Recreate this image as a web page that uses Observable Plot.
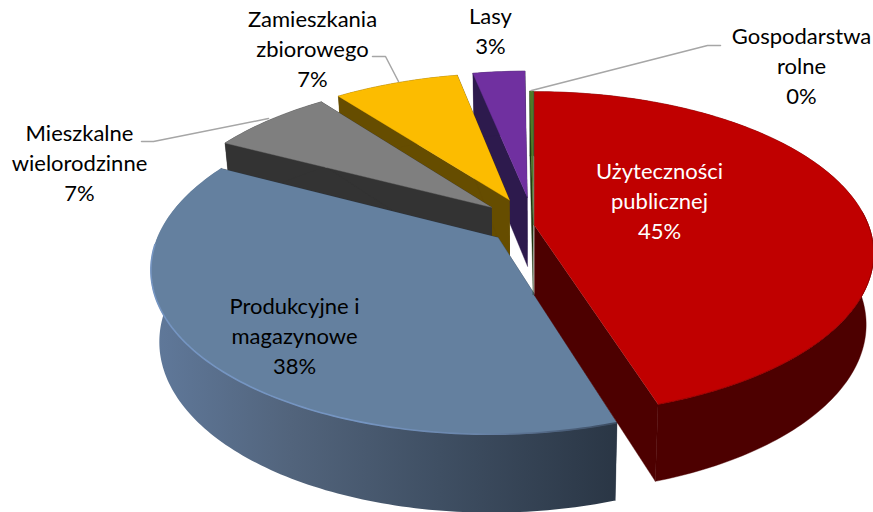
<!DOCTYPE html>
<html>
<head>
<meta charset="utf-8">
<script src="https://cdn.jsdelivr.net/npm/d3@7"></script>
<script src="https://cdn.jsdelivr.net/npm/@observablehq/plot@0.6"></script>
<style>
html,body{margin:0;padding:0;background:#fff}
svg{display:block}
</style>
</head>
<body>
<div id="chart"></div>
<script>
// Data
const categories = ["Użyteczności publicznej","Produkcyjne i magazynowe","Mieszkalne wielorodzinne","Zamieszkania zbiorowego","Lasy","Gospodarstwa rolne"];
const shares = [45, 37.6, 7, 7.2, 3, 0.2];
const shownPercent = ["45%","38%","7%","7%","3%","0%"];
const labelLines = [["Użyteczności","publicznej"],["Produkcyjne i","magazynowe"],["Mieszkalne","wielorodzinne"],["Zamieszkania","zbiorowego"],["Lasy"],["Gospodarstwa","rolne"]];

// Styling and layout of the 3-D exploded pie
const topColors  = ["#c00000","#64809f","#7f7f7f","#fcbc00","#7030a0","#4f7a28"];
const sideColors = ["#4d0000","url(#blueWall)","#333333","#664d00","#2d1a4d","#1f3310"];
const faceColors = ["#4d0000","#2b3747","#333333","#664d00","#2d1a4d","#1f3310"];
const explodeU = [0,-0.108,-0.131,-0.077,-0.022,-0.004];
const explodeV = [0,0.075,-0.118,-0.167,-0.185,-0.005];
const radius = [1,1.006,1,1,1,1];
const drawOrder = [4,3,2,1,5,0];
const labelX = [659,294,79,312,490,801];
const labelY = [202,337,164,50,32,67];
const labelInk = ["#ffffff","#000000","#000000","#000000","#000000","#000000"];
const leaders = [
  [[141,141],[153,141],[268,118]],
  [[372,56],[385,56],[398,81]],
  [[720,45],[707,45],[531,90]]
];
const cx=534, cy=225, Rx=334, Ry=157, k=0.173, depth=70, sx=0.978, sy=1.04;

function project(u,v,low){
  const w=1-k*v; let x=Rx*u/w, y=Ry*v/w;
  if(low){x*=sx; y=depth+y*sy;}
  return [cx+x,cy+y];
}
const polys=[];
let acc=0;
const starts=shares.map(s=>{const a=acc; acc+=s*3.6; return a;});
drawOrder.forEach(i=>{
  const a=starts[i], b=a+shares[i]*3.6, ou=explodeU[i], ov=explodeV[i], r=radius[i];
  const n=Math.max(2,Math.ceil(b-a));
  const angleDeg=d3.range(n+1).map(j=>a+(b-a)*j/n);
  const at=(t,low)=>project(ou+r*Math.sin(t*Math.PI/180),ov-r*Math.cos(t*Math.PI/180),low);
  const top=angleDeg.map(t=>at(t,false)), bot=angleDeg.map(t=>at(t,true));
  const apexT=project(ou,ov,false), apexB=project(ou,ov,true);
  polys.push({pts:[apexT,top[0],bot[0],apexB],fill:faceColors[i]});
  polys.push({pts:[apexT,top[n],bot[n],apexB],fill:faceColors[i]});
  polys.push({pts:[...top,...bot.slice().reverse()],fill:sideColors[i]});
  polys.push({pts:[apexT,...top],fill:topColors[i]});
  if(i===0) polys.push({pts:angleDeg.filter(t=>t>=85).map(t=>at(t,false)),stroke:"#9a0000",rim:1});
  if(i===1) polys.push({pts:angleDeg.filter(t=>t<=268).map(t=>at(t,false)),stroke:"url(#blueRim)",rim:1.6});
});

const gradient=(id,stops,x1,x2)=>()=>{
  const g=d3.create("svg:defs");
  const lg=g.append("linearGradient").attr("id",id).attr("gradientUnits","userSpaceOnUse")
    .attr("x1",x1).attr("x2",x2).attr("y1",0).attr("y2",0);
  stops.forEach(([o,c])=>lg.append("stop").attr("offset",o).attr("stop-color",c));
  return g.node();
};

const labelRows=categories.map((c,i)=>({
  text:[...labelLines[i],shownPercent[i]].join("\n"),x:labelX[i],y:labelY[i]-3,ink:labelInk[i]
}));

const fontFamily="Lato, 'Open Sans', sans-serif";
const plot=Plot.plot({
  width:873,height:512,margin:0,
  style:{background:"#fff",fontFamily},
  x:{domain:[0,873],range:[0,873],axis:null},
  y:{domain:[0,512],range:[0,512],axis:null},
  marks:[
    gradient("blueWall",[[0,"#60799b"],[0.3,"#52647c"],[0.62,"#3f4f63"],[1,"#2a3645"]],150,616),
    gradient("blueRim",[[0,"#7595c2"],[0.45,"#7595c2"],[0.7,"#6a85aa"],[1,"#3b4b60"]],148,616),
    ...polys.map(p=>p.rim
      ? Plot.line(p.pts,{x:d=>d[0],y:d=>d[1],stroke:p.stroke,strokeWidth:p.rim,fill:"none"})
      : Plot.line(p.pts,{x:d=>d[0],y:d=>d[1],fill:p.fill,stroke:p.fill.startsWith("url")?"none":p.fill,strokeWidth:0.4})),
    ...leaders.map(l=>Plot.line(l,{x:d=>d[0],y:d=>d[1],stroke:"#a6a6a6",strokeWidth:1.5})),
    Plot.text(labelRows,{x:"x",y:"y",text:"text",fill:"ink",fontSize:22,lineHeight:1.36,lineAnchor:"middle",textAnchor:"middle"})
  ]
});
document.getElementById("chart").append(plot);
</script>
</body>
</html>
